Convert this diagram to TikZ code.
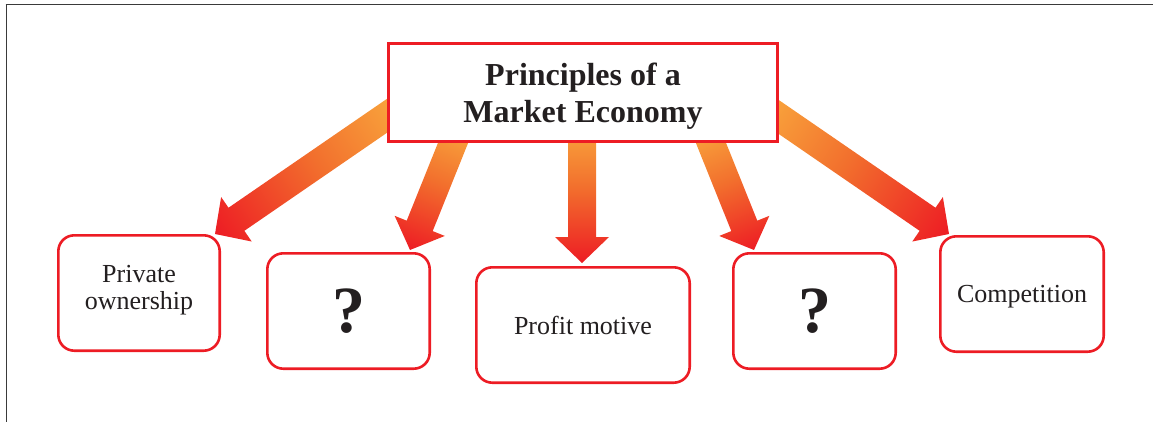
\documentclass[tikz,border=0pt]{standalone}
\usepackage{fontspec}
\setmainfont{Liberation Serif}
\usetikzlibrary{calc}
\pgfdeclarelayer{bg}
\pgfsetlayers{bg,main}
\definecolor{boxred}{HTML}{ED1C24}
\definecolor{arrred}{HTML}{ED1C24}
\definecolor{arrmid}{HTML}{F26F2D}
\definecolor{arrorange}{HTML}{F9A83D}
\definecolor{txt}{HTML}{231F20}
\definecolor{framegray}{HTML}{3A3A3A}
\pgfdeclarehorizontalshading{arrowgrad}{100bp}{color(0bp)=(arrred); color(25bp)=(arrred); color(52bp)=(arrmid); color(75bp)=(arrorange); color(100bp)=(arrorange)}
\begin{document}
\begin{tikzpicture}[x=1pt,y=-1pt,
  topbox/.style={draw=boxred, line width=2.6pt, fill=white, inner sep=0pt,
    minimum width=389.4pt, minimum height=98.4pt, align=center, text=txt,
    font=\bfseries\fontsize{32}{37}\selectfont},
  leafbox/.style={draw=boxred, line width=2.6pt, fill=white, rounded corners=16pt,
    inner sep=0pt, minimum height=115.4pt, align=center, text=txt,
    font=\fontsize{26}{27}\selectfont},
  qmark/.style={font=\bfseries\fontsize{66}{66}\selectfont},
  bigarrow/.style={shading=arrowgrad, draw=none}]
\useasboundingbox (0,0) rectangle (1153,422);
\draw[framegray, line width=1pt] (5.5,4.5) -- (1153,4.5) (6,4.5) -- (6,422);

% top box
\node[topbox, text depth=0pt] (top) at (583,92.5) {Principles of a\\Market Economy};

% leaf boxes
\node[leafbox, minimum width=161.4pt, text depth=12pt] (b1) at (139,293) {Private\\ownership};
\node[leafbox, minimum width=162.4pt, qmark] (b2) at (348.5,311) {?};
\node[leafbox, minimum width=213.4pt] (b3) at (583,325) {Profit motive};
\node[leafbox, minimum width=162.4pt, qmark] (b4) at (814.5,311) {?};
\node[leafbox, minimum width=163.4pt, text depth=0pt] (b5) at (1022,294) {Competition};

% arrow tips at the leaf boxes
\coordinate (p1) at ($(b1.north east)+(-6,0)$);
\coordinate (p2) at ($(b2.north east)+(-21,-2)$);
\coordinate (p3) at ($(b3.north)+(-1,-3)$);
\coordinate (p4) at ($(b4.north west)+(22,-2)$);
\coordinate (p5) at ($(b5.north west)+(10,-1)$);

\begin{pgfonlayer}{bg}
\foreach \tp/\ang/\len in {p1/34.5/230, p2/68.1/135, p3/90/140, p4/111.9/135, p5/145.5/230}{
  \begin{scope}[transform canvas={shift={(\tp)}, rotate=\ang}]
    \shade[bigarrow] (0,0) -- (26,27) -- (26,14) -- (\len,14) -- (\len,-14)
      -- (26,-14) -- (26,-27) -- cycle;
  \end{scope}
}
\end{pgfonlayer}
\end{tikzpicture}
\end{document}
